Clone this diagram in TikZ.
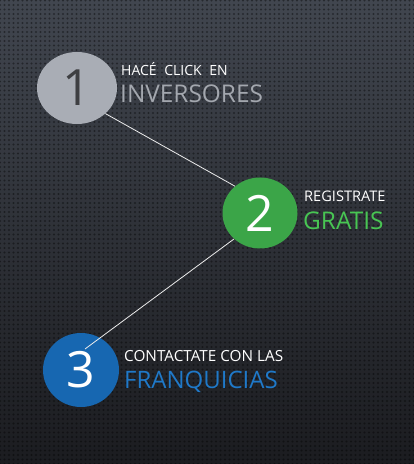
\documentclass[tikz,border=0pt]{standalone}
\usepackage{fontspec}
\setmainfont{Open Sans}
\usetikzlibrary{shapes.geometric,patterns.meta}
\definecolor{bgtop}{HTML}{41464F}
\definecolor{bgbottom}{HTML}{1B1C20}
\definecolor{stepgray}{HTML}{A9ADB5}
\definecolor{stepgreen}{HTML}{3BA548}
\definecolor{stepblue}{HTML}{1767B1}
\definecolor{textgray}{HTML}{A3A7AE}
\definecolor{textgreen}{HTML}{48C553}
\definecolor{textblue}{HTML}{1F79C9}
\definecolor{numgray}{HTML}{3E3F42}

\begin{document}
\begin{tikzpicture}[x=1pt,y=1pt]

      \shade[top color=bgtop,bottom color=bgbottom] (0,0) rectangle (414,464);
      \pattern[pattern={Dots[distance=4.5pt,radius=1.1pt]},pattern color=black,opacity=.4]
        (0,0) rectangle (414,464);
      \useasboundingbox (0,0) rectangle (414,464);

      \begin{scope}[every node/.style={ellipse,inner sep=0pt,font=\fontsize{50}{50}\selectfont}]
        \node[fill=stepgray,text=numgray,minimum width=80pt,minimum height=72pt] (1) at (77,376) {1};
        \node[fill=stepgreen,text=white,minimum width=75pt,minimum height=71pt] (2) at (260,251) {2};
        \node[fill=stepblue,text=white,minimum width=76pt,minimum height=74pt] (3) at (81,94) {3};
      \end{scope}
      \coordinate (3top) at (85,115);

      \begin{scope}[every edge/.style={draw=white!85!gray,line width=.8pt}]
        \path (1.-42) edge (2.133);
        \path (2.225) edge (3top);
      \end{scope}

      \begin{scope}[every node/.style={anchor=base west,inner sep=0pt}]
        \node[text=white,font=\fontsize{14}{14}\selectfont] (hace) at (121,388) {HACÉ\hspace{4pt} CLICK\hspace{4pt} EN};
        \node[text=textgray,font=\fontsize{24.4}{24.4}\selectfont] (inversores) at (120,361) {INVERSORES};
        \node[text=white,font=\fontsize{14.6}{14.6}\selectfont] (registrate) at (304,262) {REGISTRATE};
        \node[text=textgreen,font=\fontsize{24.4}{24.4}\selectfont] (gratis) at (303,234) {GRATIS};
        \node[text=white,font=\fontsize{15.3}{15.3}\selectfont] (contactate) at (124,102) {CONTACTATE CON LAS};
        \node[text=textblue,font=\fontsize{24}{24}\selectfont] (franquicias) at (124,75) {FRANQUICIAS};
      \end{scope}

    \end{tikzpicture}
\end{document}
